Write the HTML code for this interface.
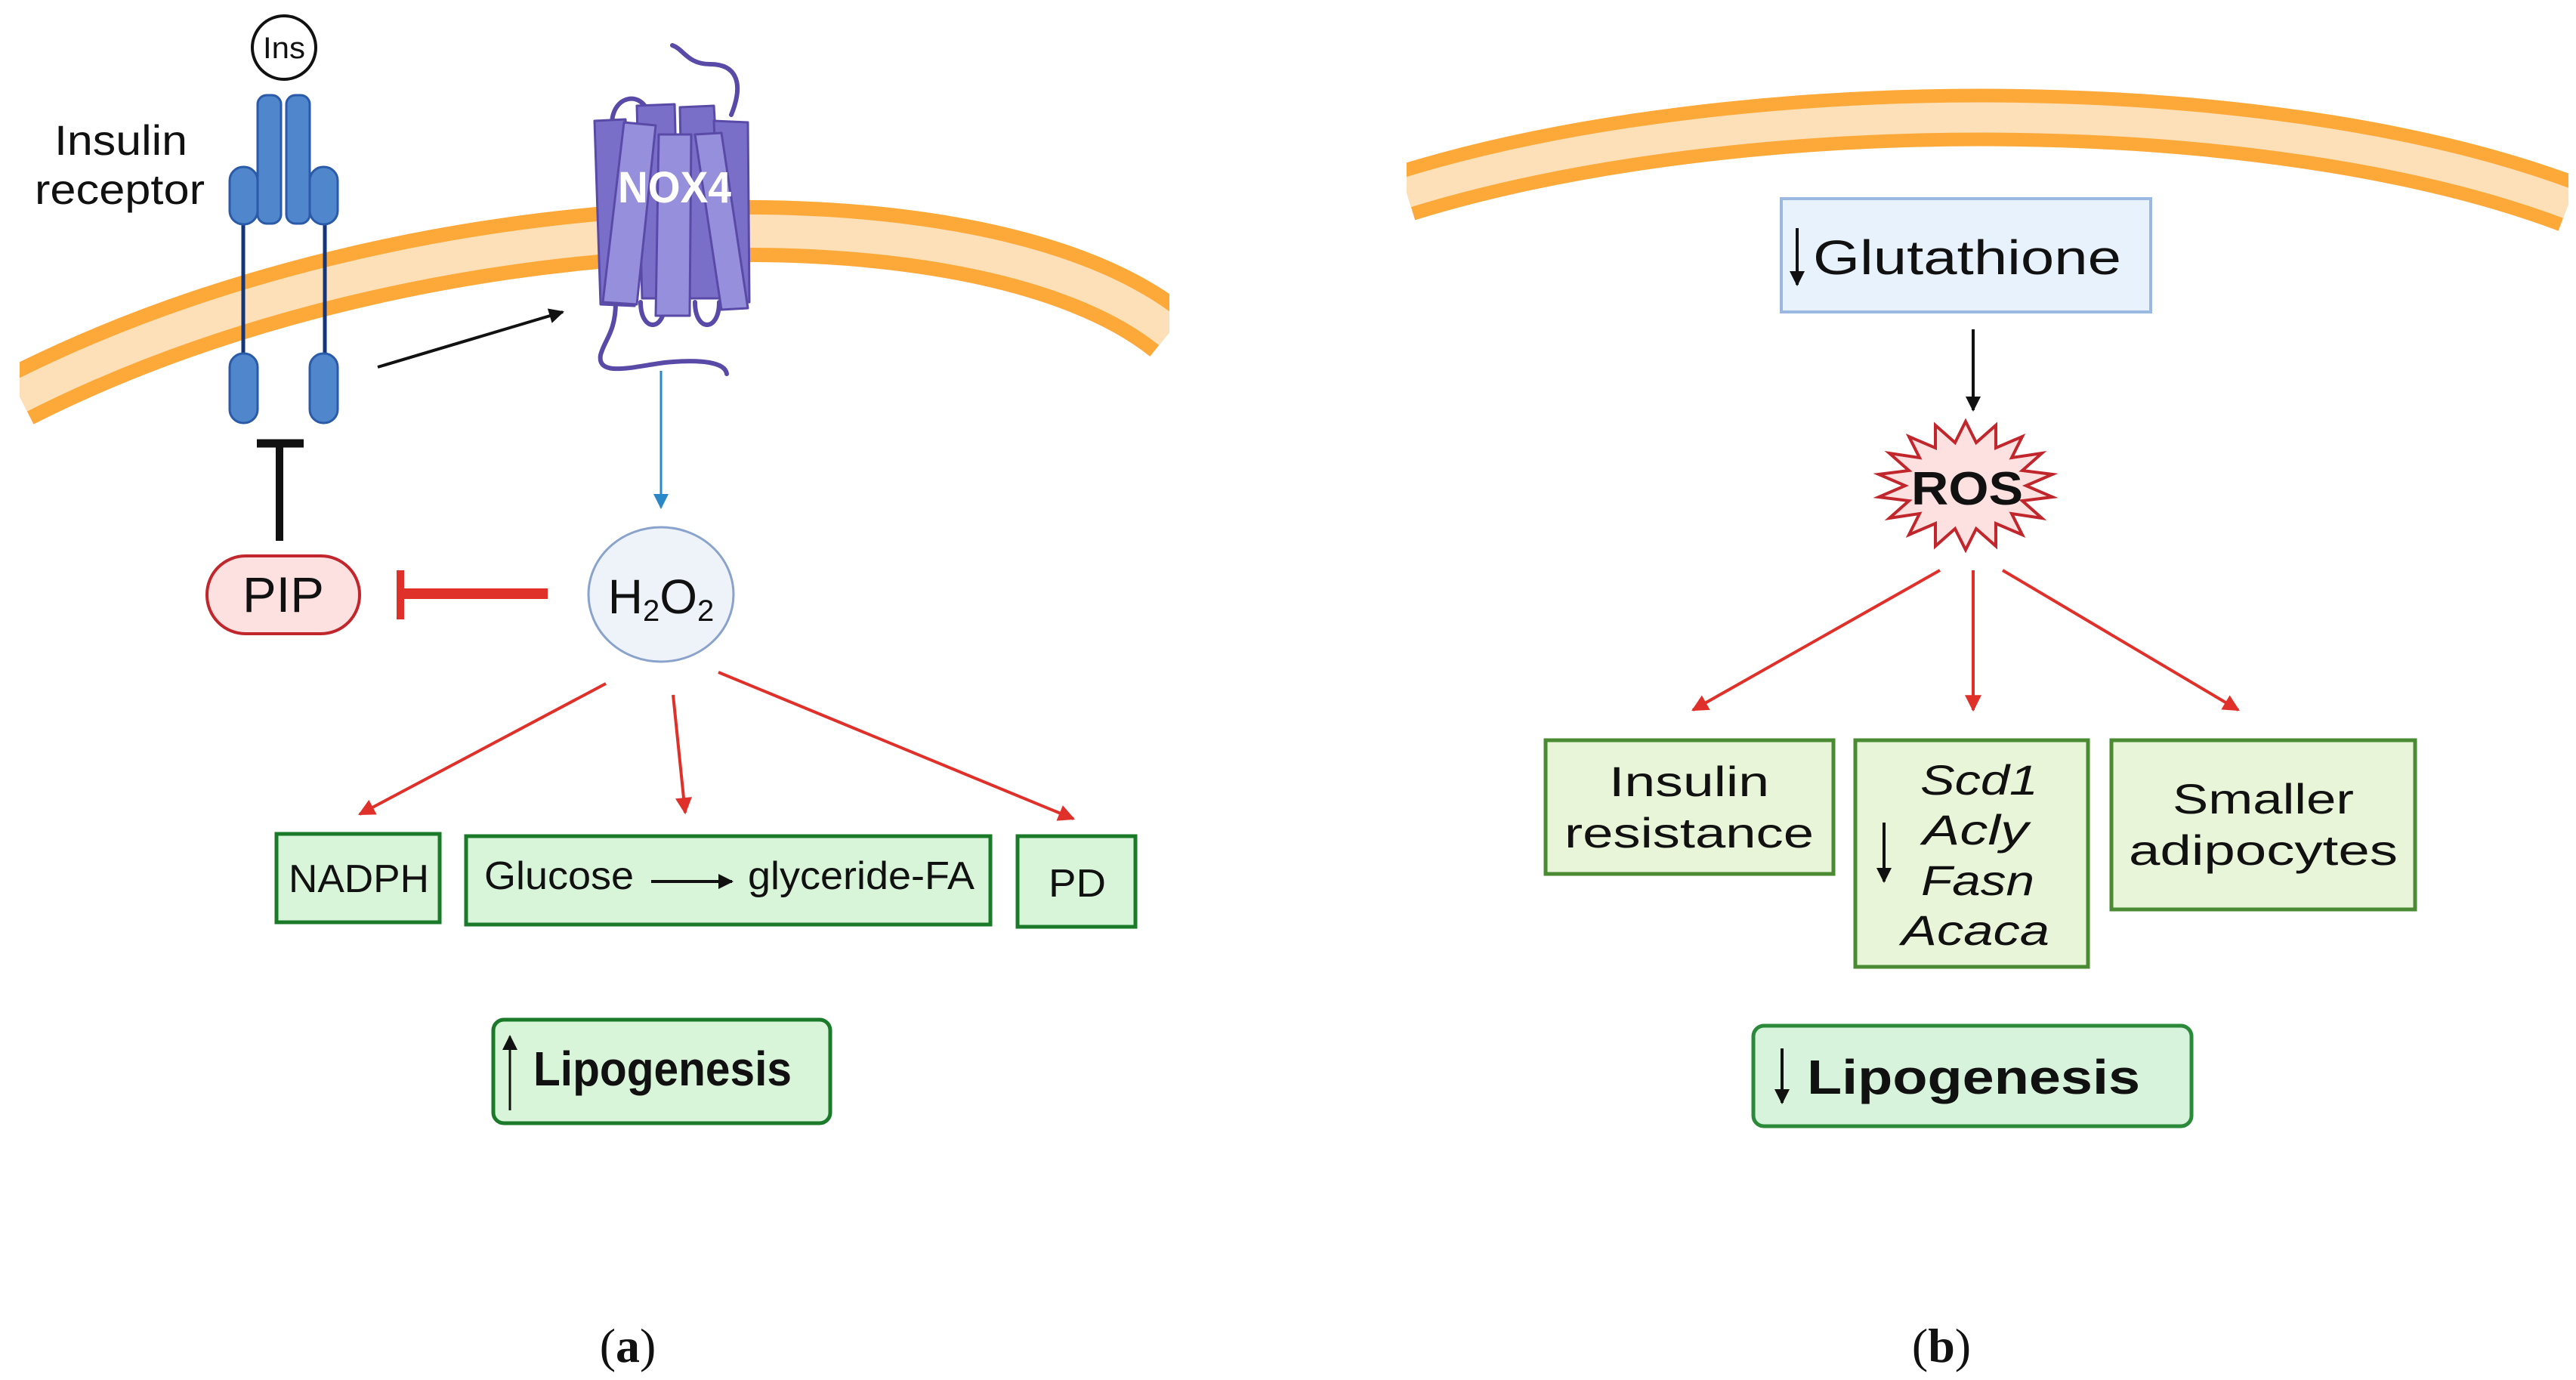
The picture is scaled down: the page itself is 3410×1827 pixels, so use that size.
<!DOCTYPE html>
<html><head><meta charset="utf-8"><style>html,body{margin:0;padding:0;background:#fff}svg{display:block}</style></head>
<body>
<svg width="3410" height="1827" viewBox="0 0 3410 1827" xmlns="http://www.w3.org/2000/svg" font-family="Liberation Sans, sans-serif">
<defs>
<clipPath id="cl"><rect x="26" y="0" width="1522" height="700"/></clipPath>
<clipPath id="cr"><rect x="1862" y="0" width="1538" height="400"/></clipPath>
<marker id="ak" markerWidth="8" markerHeight="8" refX="7" refY="4" orient="auto" markerUnits="userSpaceOnUse" viewBox="0 0 8 8"><path d="M0,0 L8,4 L0,8z" fill="#111"/></marker>
<marker id="ar" viewBox="0 0 10 10" refX="9" refY="5" markerWidth="24" markerHeight="22" orient="auto" markerUnits="userSpaceOnUse"><path d="M0,0 L10,5 L0,10z" fill="#e0302a"/></marker>
<marker id="ab" viewBox="0 0 10 10" refX="9" refY="5" markerWidth="22" markerHeight="20" orient="auto" markerUnits="userSpaceOnUse"><path d="M0,0 L10,5 L0,10z" fill="#2a88c8"/></marker>
<marker id="ak2" viewBox="0 0 10 10" refX="9" refY="5" markerWidth="22" markerHeight="20" orient="auto" markerUnits="userSpaceOnUse"><path d="M0,0 L10,5 L0,10z" fill="#111"/></marker>
</defs>

<!-- membranes -->
<g clip-path="url(#cl)" fill="none">
<path d="M26 525 C550 260,1300 240,1548 440" stroke="#fda93a" stroke-width="82"/>
<path d="M26 525 C550 260,1300 240,1548 440" stroke="#fde0b8" stroke-width="44"/>
</g>
<g clip-path="url(#cr)" fill="none">
<path d="M1862 255 C2300 120,3000 120,3400 270" stroke="#fda93a" stroke-width="76"/>
<path d="M1862 255 C2300 120,3000 120,3400 270" stroke="#fde0b8" stroke-width="40"/>
</g>

<!-- Insulin receptor -->
<circle cx="376" cy="63" r="42" fill="#fff" stroke="#111" stroke-width="4"/>
<text x="376" y="77" font-size="40" text-anchor="middle" fill="#111" textLength="56" lengthAdjust="spacingAndGlyphs">Ins</text>
<text x="72" y="205" font-size="56" fill="#111" textLength="176" lengthAdjust="spacingAndGlyphs">Insulin</text>
<text x="46" y="270" font-size="56" fill="#111" textLength="225" lengthAdjust="spacingAndGlyphs">receptor</text>
<g fill="#5087cc" stroke="#2a5aa8" stroke-width="3">
<line x1="322" y1="296" x2="322" y2="470" stroke="#14357a" stroke-width="5"/>
<line x1="430" y1="296" x2="430" y2="470" stroke="#14357a" stroke-width="5"/>
<rect x="341" y="126" width="31" height="170" rx="12"/>
<rect x="379" y="126" width="31" height="170" rx="12"/>
<rect x="304" y="221" width="37" height="76" rx="18"/>
<rect x="410" y="221" width="37" height="76" rx="18"/>
<rect x="304" y="468" width="37" height="92" rx="18"/>
<rect x="410" y="468" width="37" height="92" rx="18"/>
</g>
<line x1="370" y1="588" x2="370" y2="716" stroke="#111" stroke-width="10"/>
<line x1="340" y1="587" x2="402" y2="587" stroke="#111" stroke-width="11"/>

<!-- PIP -->
<rect x="274" y="736" width="202" height="103" rx="51" fill="#fde0e0" stroke="#c0262b" stroke-width="4"/>
<text x="375" y="810" font-size="66" text-anchor="middle" fill="#111" textLength="108" lengthAdjust="spacingAndGlyphs">PIP</text>
<line x1="530" y1="786" x2="725" y2="786" stroke="#e0302a" stroke-width="14"/>
<line x1="530" y1="755" x2="530" y2="820" stroke="#e0302a" stroke-width="10"/>

<!-- NOX4 -->
<g fill="none" stroke="#5a4aa8" stroke-width="6" stroke-linecap="round">
<path d="M968 152 C985 110,975 85,940 85 C910 85,905 65,890 60"/>
<path d="M815 400 C815 440,800 450,795 470 C790 500,840 485,880 480 C930 475,960 480,962 495"/>
<path d="M810 165 C810 125,850 120,858 150"/>
<path d="M848 400 C848 440,880 440,880 400"/>
<path d="M920 400 C920 440,952 440,952 400"/>
</g>
<g stroke="#5a4aa8" stroke-width="3" stroke-linejoin="round">
<path d="M787 160 L828 158 L840 405 L795 403z" fill="#7a6fc8"/>
<path d="M843 140 L893 138 L900 395 L850 395z" fill="#7a6fc8"/>
<path d="M900 142 L945 140 L960 395 L905 395z" fill="#7a6fc8"/>
<path d="M945 160 L990 162 L992 400 L955 402z" fill="#7a6fc8"/>
<path d="M826 162 L868 166 L843 403 L798 400z" fill="#968fdb"/>
<path d="M872 178 L915 178 L913 418 L868 418z" fill="#968fdb"/>
<path d="M920 178 L955 176 L990 408 L955 410z" fill="#968fdb"/>
</g>
<text x="893" y="268" font-size="58" font-weight="bold" text-anchor="middle" fill="#fff" textLength="150" lengthAdjust="spacingAndGlyphs">NOX4</text>

<!-- arrows top -->
<line x1="500" y1="486" x2="745" y2="413" stroke="#111" stroke-width="4" marker-end="url(#ak2)"/>
<line x1="875" y1="491" x2="875" y2="672" stroke="#2a88c8" stroke-width="3" marker-end="url(#ab)"/>

<!-- H2O2 -->
<ellipse cx="875" cy="787" rx="96" ry="89" fill="#eef3fa" stroke="#8aa3cc" stroke-width="3"/>
<text x="875" y="812" font-size="64" text-anchor="middle" fill="#111">H<tspan font-size="40" dy="10">2</tspan><tspan dy="-10">O</tspan><tspan font-size="40" dy="10">2</tspan></text>

<!-- red arrows left -->
<g stroke="#e0302a" stroke-width="4" marker-end="url(#ar)">
<line x1="802" y1="905" x2="476" y2="1078"/>
<line x1="891" y1="920" x2="907" y2="1076"/>
<line x1="951" y1="890" x2="1421" y2="1084"/>
</g>

<!-- left boxes -->
<g fill="#d9f5d9" stroke="#1a7a2a" stroke-width="5">
<rect x="366" y="1104" width="216" height="117"/>
<rect x="617" y="1107" width="694" height="117"/>
<rect x="1347" y="1107" width="156" height="120"/>
<rect x="653" y="1350" width="446" height="137" rx="14"/>
</g>
<g font-size="52" fill="#111">
<text x="382" y="1181" textLength="186" lengthAdjust="spacingAndGlyphs">NADPH</text>
<text x="641" y="1177" textLength="198" lengthAdjust="spacingAndGlyphs">Glucose</text>
<text x="990" y="1177" textLength="300" lengthAdjust="spacingAndGlyphs">glyceride-FA</text>
<text x="1388" y="1187" textLength="76" lengthAdjust="spacingAndGlyphs">PD</text>
</g>
<line x1="862" y1="1167" x2="969" y2="1167" stroke="#111" stroke-width="4" marker-end="url(#ak2)"/>
<line x1="675" y1="1470" x2="675" y2="1372" stroke="#111" stroke-width="3" marker-end="url(#ak2)"/>
<text x="706" y="1437" font-size="64" font-weight="bold" fill="#111" textLength="342" lengthAdjust="spacingAndGlyphs">Lipogenesis</text>

<text x="831" y="1803" font-size="64" font-family="Liberation Serif, serif" text-anchor="middle" fill="#111">(<tspan font-weight="bold">a</tspan>)</text>

<!-- RIGHT PANEL -->
<rect x="2358" y="263" width="489" height="150" fill="#e8f2fc" stroke="#9bb8e0" stroke-width="4"/>
<line x1="2379" y1="302" x2="2379" y2="377" stroke="#111" stroke-width="4" marker-end="url(#ak2)"/>
<text x="2400" y="363" font-size="64" fill="#111" textLength="408" lengthAdjust="spacingAndGlyphs">Glutathione</text>
<line x1="2612" y1="436" x2="2612" y2="543" stroke="#111" stroke-width="4" marker-end="url(#ak2)"/>

<polygon transform="translate(2602,643)" fill="#fde0e0" stroke="#c0262b" stroke-width="4" stroke-linejoin="miter"
points="0,-85 14,-57 40,-80 40,-50 75,-65 61,-37 101,-43 75,-20 115,-15 80,0 115,15 75,20 101,43 61,37 75,65 40,50 40,80 14,57 0,85 -14,57 -40,80 -40,50 -75,65 -61,37 -101,43 -75,20 -115,15 -80,0 -115,-15 -75,-20 -101,-43 -61,-37 -75,-65 -40,-50 -40,-80 -14,-57"/>
<text x="2604" y="668" font-size="62" font-weight="bold" text-anchor="middle" fill="#111" textLength="148" lengthAdjust="spacingAndGlyphs">ROS</text>

<g stroke="#e0302a" stroke-width="4" marker-end="url(#ar)">
<line x1="2568" y1="755" x2="2241" y2="940"/>
<line x1="2612" y1="755" x2="2612" y2="940"/>
<line x1="2651" y1="755" x2="2963" y2="940"/>
</g>

<g fill="#e8f5d8" stroke="#4a8a32" stroke-width="5">
<rect x="2046" y="980" width="381" height="177"/>
<rect x="2456" y="980" width="308" height="300"/>
<rect x="2795" y="980" width="402" height="224"/>
</g>
<g font-size="56" fill="#111" text-anchor="middle">
<text x="2236" y="1054" textLength="212" lengthAdjust="spacingAndGlyphs">Insulin</text>
<text x="2236" y="1122" textLength="330" lengthAdjust="spacingAndGlyphs">resistance</text>
<text x="2996" y="1077" textLength="240" lengthAdjust="spacingAndGlyphs">Smaller</text>
<text x="2996" y="1145" textLength="356" lengthAdjust="spacingAndGlyphs">adipocytes</text>
<g font-style="italic">
<text x="2620" y="1052" textLength="156" lengthAdjust="spacingAndGlyphs">Scd1</text>
<text x="2615" y="1118" textLength="140" lengthAdjust="spacingAndGlyphs">Acly</text>
<text x="2618" y="1185" textLength="150" lengthAdjust="spacingAndGlyphs">Fasn</text>
<text x="2615" y="1251" textLength="196" lengthAdjust="spacingAndGlyphs">Acaca</text>
</g>
</g>
<line x1="2494" y1="1089" x2="2494" y2="1167" stroke="#111" stroke-width="4" marker-end="url(#ak2)"/>

<rect x="2321" y="1358" width="580" height="133" rx="14" fill="#d8f3dc" stroke="#2a8a3a" stroke-width="5"/>
<line x1="2359" y1="1388" x2="2359" y2="1460" stroke="#111" stroke-width="4" marker-end="url(#ak2)"/>
<text x="2392" y="1448" font-size="64" font-weight="bold" fill="#111" textLength="441" lengthAdjust="spacingAndGlyphs">Lipogenesis</text>

<text x="2570" y="1803" font-size="64" font-family="Liberation Serif, serif" text-anchor="middle" fill="#111">(<tspan font-weight="bold">b</tspan>)</text>
</svg>
</body></html>
